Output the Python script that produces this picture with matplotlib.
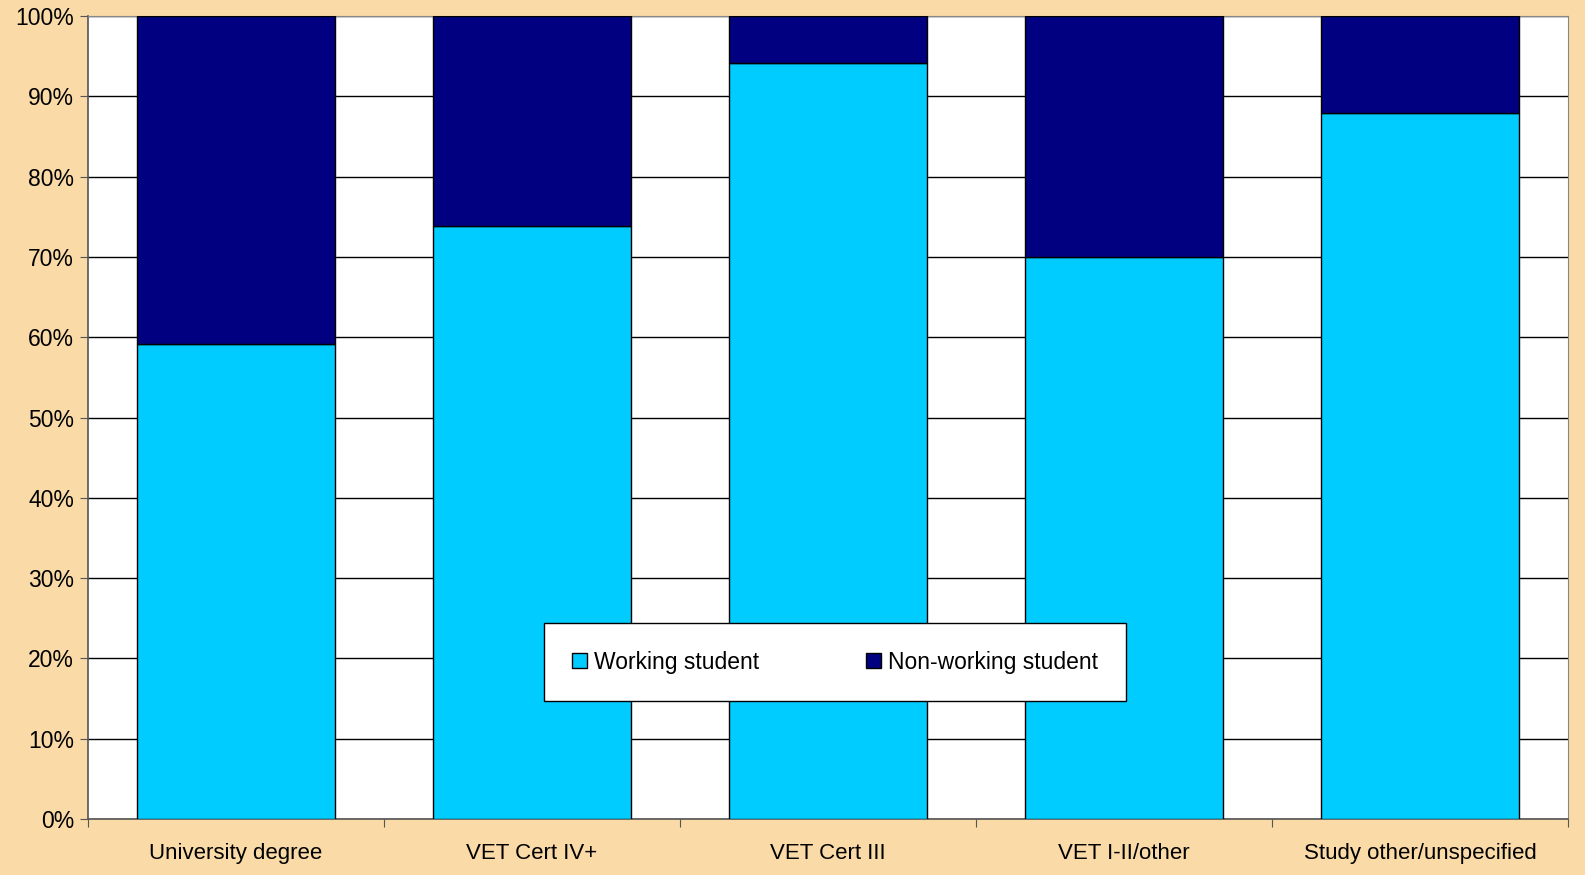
import matplotlib
matplotlib.use("Agg")
import matplotlib.pyplot as plt
from matplotlib.patches import Patch
import numpy as np

categories = ["University degree", "VET Cert IV+", "VET Cert III", "VET I-II/other", "Study other/unspecified"]
working = [59.2, 73.8, 94.1, 70.0, 87.9]
nonworking = [100 - w for w in working]
yticks = [0, 10, 20, 30, 40, 50, 60, 70, 80, 90, 100]

plt.rcParams['font.family'] = ['Liberation Sans', 'DejaVu Sans']

fig = plt.figure(figsize=(15.85, 8.75), dpi=100)
fig.patch.set_facecolor('#FADAA6')
ax = fig.add_axes([88/1585, 56/875, (1568-88)/1585, (819-16)/875])
ax.set_facecolor('white')

x = np.arange(len(categories))
c_work = '#00CCFF'
c_non = '#000080'
ax.bar(x, working, width=0.666, color=c_work, edgecolor='black', linewidth=1, zorder=3)
ax.bar(x, nonworking, bottom=working, width=0.666, color=c_non, edgecolor='black', linewidth=1, zorder=3)

ax.set_xlim(-0.5, len(categories) - 0.5)
ax.set_ylim(0, 100)
ax.set_yticks(yticks)
ax.set_yticklabels([f"{t}%" for t in yticks], fontsize=16.5)
ax.yaxis.grid(True, color='black', linewidth=1, zorder=1)
ax.set_axisbelow(True)

ax.set_xticks(np.arange(-0.5, len(categories), 1.0))
ax.set_xticklabels([])
ax.set_xticks(x, minor=True)
ax.set_xticklabels(categories, minor=True, fontsize=16)
ax.tick_params(axis='x', which='minor', length=0, pad=17)
ax.tick_params(axis='x', which='major', length=6, color='#555555', direction='out')
ax.tick_params(axis='y', length=6, color='#555555', direction='out', pad=4)

for s in ['top', 'right']:
    ax.spines[s].set_visible(True)
    ax.spines[s].set_color('#888888')
ax.spines['left'].set_color('#555555')
ax.spines['bottom'].set_color('#555555')
ax.spines['left'].set_linewidth(1.2)
ax.spines['bottom'].set_linewidth(1.2)

handles = [Patch(facecolor=c_work, edgecolor='black', label='Working student'),
           Patch(facecolor=c_non, edgecolor='black', label='Non-working student')]
leg = ax.legend(handles=handles, ncol=2, loc='center',
                bbox_to_anchor=((541+1129)/2/1585, (875-662)/875), bbox_transform=fig.transFigure,
                fontsize=16.5, frameon=True, fancybox=False, edgecolor='black', facecolor='white',
                framealpha=1,
                handlelength=0.65, handleheight=0.65, handletextpad=0.3, columnspacing=4.7,
                borderpad=1.2, borderaxespad=0)
leg.get_frame().set_linewidth(1)
leg.set_zorder(5)

fig.savefig('out.png', dpi=100, facecolor=fig.get_facecolor())
